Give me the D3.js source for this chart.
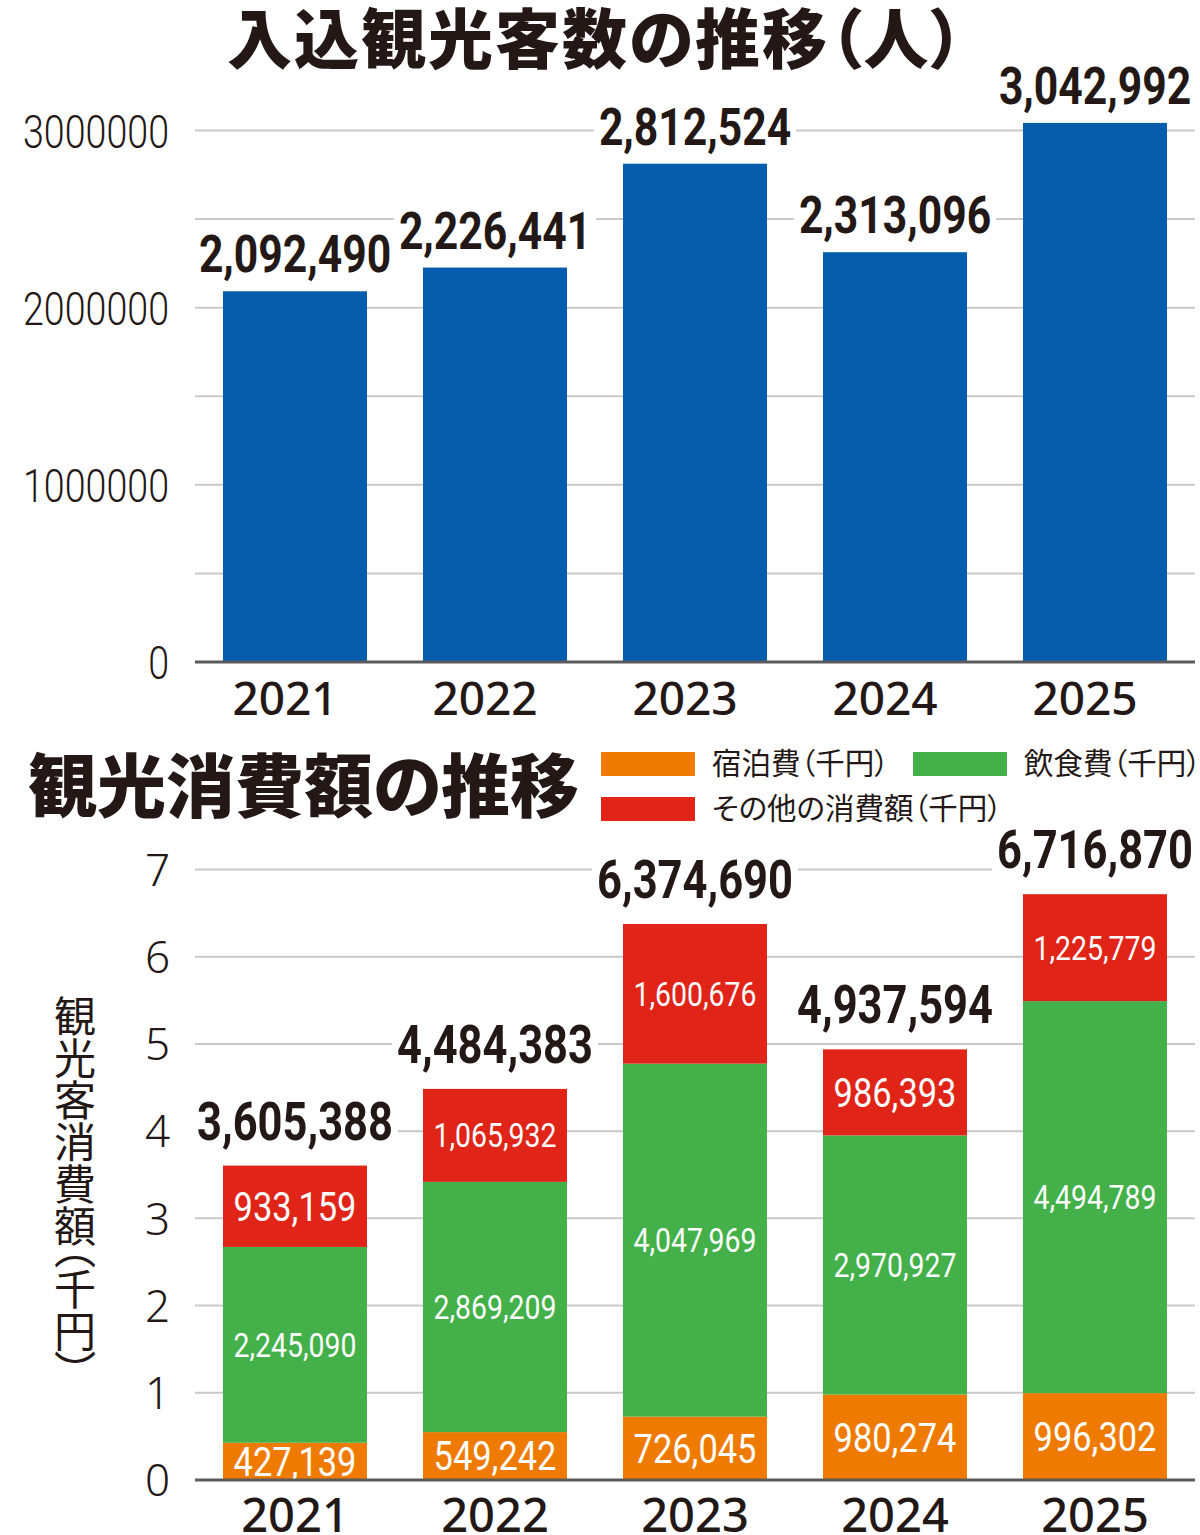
<!DOCTYPE html>
<html lang="ja">
<head>
<meta charset="utf-8">
<script src="https://cdn.jsdelivr.net/npm/d3@7"></script>
<style>
  html, body { margin: 0; padding: 0; background: #fff; }
  svg { display: block; }
</style>
</head>
<body>
<div id="chart"></div>
<script>
// Data
const years = ["2021", "2022", "2023", "2024", "2025"];
const visitors = [2092490, 2226441, 2812524, 2313096, 3042992];
const lodging = [427139, 549242, 726045, 980274, 996302];
const food = [2245090, 2869209, 4047969, 2970927, 4494789];
const other = [933159, 1065932, 1600676, 986393, 1225779];
const visitorTicks = [0, 1000000, 2000000, 3000000];
const visitorGrid = [500000, 1000000, 1500000, 2000000, 2500000, 3000000];
const spendTicks = [0, 1, 2, 3, 4, 5, 6, 7];
const seriesNames = ["宿泊費（千円）", "飲食費（千円）", "その他の消費額（千円）"];
const seriesKeys = ["lodging", "food", "other"];
const colors = ["#ee7a00", "#43b04a", "#e02418"];

const W = 1200, H = 1535;
const ink = "#231815";
const numFont = "Roboto, 'Liberation Sans', sans-serif";
const cjk = "'Noto Sans CJK JP', 'Noto Sans', sans-serif";
const fmt = d3.format(",");

const svg = d3.select("#chart").append("svg")
    .attr("width", W)
    .attr("height", H);

// squeeze text horizontally to mimic the condensed print font
function condense(sel, f) {
    sel.each(function () {
        const L = this.getComputedTextLength();
        d3.select(this)
            .attr("textLength", L * f)
            .attr("lengthAdjust", "spacingAndGlyphs");
    });
}

// shared x scale - both charts use the same columns
const x = d3.scaleBand()
    .domain(years)
    .range([195, 1195])
    .paddingInner(0.28)
    .paddingOuter(0.14);

// helper: label with a white box behind it so gridlines break around it
function boxedLabel(g, txt, cx, baseline, size) {
    const grp = g.append("g");
    const t = grp.append("text")
        .attr("x", cx)
        .attr("y", baseline)
        .attr("text-anchor", "middle")
        .style("font-family", numFont)
        .style("font-weight", "bold")
        .style("font-size", size + "px")
        .attr("fill", ink)
        .text(txt);
    const L = t.node().getComputedTextLength() * 0.82;
    condense(t, 0.82);
    grp.insert("rect", "text")
        .attr("x", cx - L / 2 - 5)
        .attr("y", baseline - size * 0.78)
        .attr("width", L + 10)
        .attr("height", size * 0.84)
        .attr("fill", "#fff");
}

// ---------- Top chart: visitors ----------
svg.append("text")
    .attr("x", 596)
    .attr("y", 63)
    .attr("text-anchor", "middle")
    .style("font-family", cjk)
    .style("font-weight", 900)
    .style("font-size", "65px")
    .style("letter-spacing", "2px")
    .style("font-feature-settings", "'palt'")
    .attr("fill", ink)
    .text("入込観光客数の推移（人）");

const y1 = d3.scaleLinear()
    .domain([0, 3000000])
    .range([662, 130.5]);

// gridlines
svg.append("g")
    .selectAll("line")
    .data(visitorGrid)
    .enter()
    .append("line")
    .attr("x1", 195)
    .attr("x2", 1195)
    .attr("y1", d => y1(d))
    .attr("y2", d => y1(d))
    .attr("stroke", "#c9c9c9")
    .attr("stroke-width", 2);

// y tick labels
svg.append("g")
    .call(d3.axisLeft(y1).tickValues(visitorTicks).tickSize(0).tickPadding(0).tickFormat(d3.format("d")))
    .attr("transform", "translate(169,0)")
    .call(g => g.select(".domain").remove())
    .selectAll("text")
    .attr("dy", "0.36em")
    .style("font-family", numFont)
    .style("font-weight", 300)
    .style("font-size", "47px")
    .attr("fill", ink)
    .call(condense, 0.8);

// bars
const topLayer = svg.append("g");
topLayer.selectAll(".bar")
    .data(visitors)
    .enter()
    .append("rect")
    .attr("class", "bar")
    .attr("x", (d, i) => x(years[i]))
    .attr("y", d => y1(d))
    .attr("width", x.bandwidth())
    .attr("height", d => y1(0) - y1(d))
    .attr("fill", "#055dab");

// baseline axis
svg.append("line")
    .attr("x1", 195).attr("x2", 1195)
    .attr("y1", y1(0)).attr("y2", y1(0))
    .attr("stroke", "#5a5a5a")
    .attr("stroke-width", 3);

// year labels
svg.append("g")
    .attr("transform", `translate(0, ${y1(0)})`)
    .call(d3.axisBottom(x).tickSize(0).tickPadding(0))
    .call(g => g.select(".domain").remove())
    .selectAll("text")
    .attr("dy", 0)
    .attr("dx", -10)
    .attr("y", 53)
    .style("font-family", "'Noto Sans', sans-serif")
    .style("font-weight", 500)
    .style("font-size", "46px")
    .attr("fill", ink);

// value labels
visitors.forEach((v, i) => {
    boxedLabel(topLayer, fmt(v), x(years[i]) + x.bandwidth() / 2, y1(v) - 19, 52);
});

// ---------- Bottom chart: spending ----------
svg.append("text")
    .attr("x", 28)
    .attr("y", 812)
    .style("font-family", cjk)
    .style("font-weight", 900)
    .style("font-size", "69px")
    .style("font-feature-settings", "'palt'")
    .attr("fill", ink)
    .text("観光消費額の推移");

// legend
const legendPos = [[601, 752], [913, 752], [601, 797]];
const legend = svg.append("g");
seriesNames.forEach((name, i) => {
    legend.append("rect")
        .attr("x", legendPos[i][0])
        .attr("y", legendPos[i][1])
        .attr("width", 94)
        .attr("height", 24)
        .attr("fill", colors[i]);
    legend.append("text")
        .attr("x", legendPos[i][0] + 111)
        .attr("y", legendPos[i][1] + 22)
        .style("font-family", cjk)
        .style("font-size", "29.5px")
        .style("font-feature-settings", "'palt'")
        .attr("fill", ink)
        .text(name);
});

// y axis title, vertical
svg.append("text")
    .attr("x", 75)
    .attr("y", 995)
    .style("writing-mode", "vertical-rl")
    .style("font-family", cjk)
    .style("font-size", "42px")
    .style("font-feature-settings", "'vpal'")
    .attr("fill", ink)
    .text("観光客消費額（千円）");

const y2 = d3.scaleLinear()
    .domain([0, 7])
    .range([1480, 869.5]);

// gridlines
svg.append("g")
    .selectAll("line")
    .data(spendTicks.slice(1))
    .enter()
    .append("line")
    .attr("x1", 195)
    .attr("x2", 1195)
    .attr("y1", d => y2(d))
    .attr("y2", d => y2(d))
    .attr("stroke", "#c9c9c9")
    .attr("stroke-width", 2);

svg.append("g")
    .call(d3.axisLeft(y2).tickValues(spendTicks).tickSize(0).tickPadding(0).tickFormat(d3.format("d")))
    .attr("transform", "translate(170,0)")
    .call(g => g.select(".domain").remove())
    .selectAll("text")
    .attr("dy", "0.36em")
    .style("font-family", "'Noto Sans', sans-serif")
    .style("font-weight", 300)
    .style("font-size", "44px")
    .attr("fill", ink);

// stacked bars
const rows = years.map((yr, i) => ({
    year: yr, lodging: lodging[i], food: food[i], other: other[i]
}));
const stack = d3.stack().keys(seriesKeys)(rows);
const M = 1e6;

const bottomLayer = svg.append("g");
stack.forEach((layer, k) => {
    bottomLayer.append("g")
        .selectAll("rect")
        .data(layer)
        .enter()
        .append("rect")
        .attr("x", d => x(d.data.year))
        .attr("y", d => y2(d[1] / M))
        .attr("width", x.bandwidth())
        .attr("height", d => y2(d[0] / M) - y2(d[1] / M))
        .attr("fill", colors[k]);

    // segment labels
    bottomLayer.append("g")
        .selectAll("text")
        .data(layer)
        .enter()
        .append("text")
        .attr("x", d => x(d.data.year) + x.bandwidth() / 2)
        .attr("y", d => (y2(d[0] / M) + y2(d[1] / M)) / 2)
        .attr("dy", "0.36em")
        .attr("text-anchor", "middle")
        .style("font-family", numFont)
        .style("font-size", d => (fmt(d.data[layer.key]).length > 7 ? 33 : 40) + "px")
        .attr("fill", "#fff")
        .text(d => fmt(d.data[layer.key]))
        .call(condense, 0.86);
});

svg.append("line")
    .attr("x1", 195).attr("x2", 1195)
    .attr("y1", y2(0)).attr("y2", y2(0))
    .attr("stroke", "#5a5a5a")
    .attr("stroke-width", 3);

svg.append("g")
    .attr("transform", `translate(0, ${y2(0)})`)
    .call(d3.axisBottom(x).tickSize(0).tickPadding(0))
    .call(g => g.select(".domain").remove())
    .selectAll("text")
    .attr("dy", 0)
    .attr("y", 52)
    .style("font-family", "'Noto Sans', sans-serif")
    .style("font-weight", 500)
    .style("font-size", "47px")
    .attr("fill", ink);

// totals
rows.forEach(r => {
    const total = r.lodging + r.food + r.other;
    boxedLabel(bottomLayer, fmt(total), x(r.year) + x.bandwidth() / 2, y2(total / M) - 26, 53);
});
</script>
</body>
</html>
